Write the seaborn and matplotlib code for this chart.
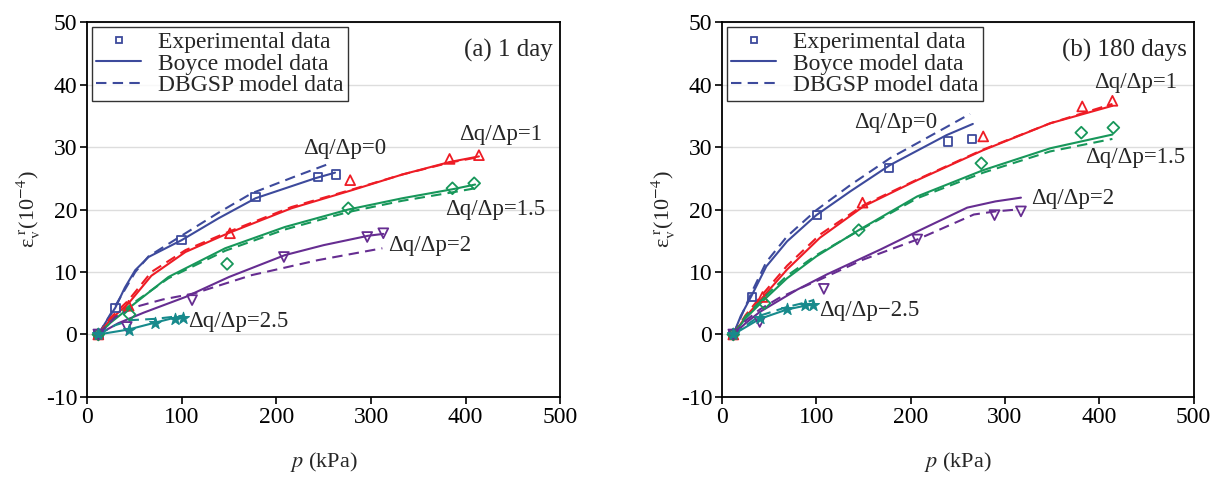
import numpy as np
import seaborn as sns
import matplotlib.pyplot as plt
from matplotlib.lines import Line2D

# ratio labels (dq/dp)
ratios = ['0', '1', '1.5', '2', '2.5']

# ---- (a) 1 day : experimental points ----
a_exp_p = {
    '0':   [12, 30, 100, 178, 244, 263],
    '1':   [12, 44, 151, 278, 383, 414],
    '1.5': [12, 45, 148, 276, 386, 409],
    '2':   [12, 42, 111, 208, 296, 313],
    '2.5': [12, 44, 72, 93, 101],
}
a_exp_e = {
    '0':   [0, 4.2, 15.1, 22.0, 25.2, 25.6],
    '1':   [0, 4.6, 16.2, 24.7, 28.1, 28.7],
    '1.5': [0, 3.2, 11.3, 20.2, 23.4, 24.2],
    '2':   [0, 1.2, 5.5, 12.4, 15.6, 16.2],
    '2.5': [0, 0.7, 1.9, 2.5, 2.7],
}
# Boyce model curves (a)
a_boy_p = {
    '0':   [12, 20, 30, 40, 51, 65, 100, 139, 178, 241, 262],
    '1':   [12, 25, 44, 68, 104, 149, 216, 280, 333, 383, 414],
    '1.5': [12, 25, 44, 86, 146, 209, 276, 333, 388, 410],
    '2':   [12, 33, 60, 104, 150, 209, 250, 297, 313],
    '2.5': [12, 44, 72, 93, 101],
}
a_boy_e = {
    '0':   [0, 2.0, 4.3, 7.5, 10.3, 12.4, 15.1, 18.6, 21.8, 25.0, 25.9],
    '1':   [0, 2.4, 5.0, 9.4, 13.2, 16.2, 20.2, 23.1, 25.6, 27.6, 28.5],
    '1.5': [0, 1.9, 4.2, 9.2, 13.8, 17.2, 20.0, 21.8, 23.3, 24.0],
    '2':   [0, 1.8, 3.5, 6.0, 9.2, 12.7, 14.3, 15.8, 16.1],
    '2.5': [0, 0.8, 1.9, 2.7, 2.9],
}
# DBGSP model curves (a)
a_dbg_p = {
    '0':   [12, 30, 51, 65, 104, 139, 174, 220, 257],
    '1':   [12, 25, 44, 68, 104, 149, 216, 280, 333, 383, 414],
    '1.5': [12, 25, 44, 86, 146, 209, 276, 333, 388, 410],
    '2':   [12, 30, 51, 80, 114, 174, 244, 312],
    '2.5': [12, 30, 47, 72, 101],
}
a_dbg_e = {
    '0':   [0, 4.6, 10.0, 12.5, 16.2, 19.5, 22.6, 25.3, 27.4],
    '1':   [0, 2.7, 5.5, 10.0, 13.5, 16.4, 20.4, 23.2, 25.6, 27.5, 28.4],
    '1.5': [0, 2.1, 4.5, 9.0, 13.4, 16.8, 19.6, 21.4, 22.8, 23.4],
    '2':   [0, 2.8, 4.4, 5.6, 6.6, 9.5, 11.9, 13.8],
    '2.5': [0, 1.5, 2.3, 2.5, 3.0],
}

# ---- (b) 180 days : experimental points ----
b_exp_p = {
    '0':   [12, 32, 101, 177, 240, 265],
    '1':   [12, 43, 149, 277, 382, 414],
    '1.5': [12, 45, 145, 275, 381, 415],
    '2':   [12, 40, 108, 207, 289, 317],
    '2.5': [12, 40, 69, 88, 97],
}
b_exp_e = {
    '0':   [0, 6.0, 19.1, 26.6, 30.9, 31.3],
    '1':   [0, 6.0, 21.1, 31.7, 36.5, 37.4],
    '1.5': [0, 5.0, 16.7, 27.4, 32.3, 33.1],
    '2':   [0, 2.0, 7.3, 15.2, 19.1, 19.7],
    '2.5': [0, 2.6, 4.1, 4.7, 4.7],
}
# Boyce model curves (b)
b_boy_p = {
    '0':   [12, 20, 31, 47, 69, 100, 136, 178, 238, 266],
    '1':   [12, 25, 44, 69, 104, 150, 207, 277, 348, 414],
    '1.5': [12, 25, 45, 69, 100, 145, 207, 277, 348, 414],
    '2':   [12, 25, 40, 60, 80, 111, 168, 210, 260, 290, 317],
    '2.5': [12, 40, 69, 88, 97],
}
b_boy_e = {
    '0':   [0, 3.0, 6.1, 10.9, 14.9, 19.1, 22.9, 27.1, 31.9, 33.7],
    '1':   [0, 2.8, 6.1, 10.4, 15.5, 20.5, 24.7, 29.5, 33.8, 36.6],
    '1.5': [0, 2.6, 5.6, 9.0, 12.5, 16.7, 22.1, 26.3, 29.8, 32.0],
    '2':   [0, 1.8, 3.6, 5.4, 7.2, 9.6, 13.6, 16.7, 20.3, 21.3, 21.9],
    '2.5': [0, 2.5, 4.0, 4.6, 4.8],
}
# DBGSP model curves (b)
b_dbg_p = {
    '0':   [12, 31, 47, 69, 100, 136, 178, 238, 263],
    '1':   [12, 25, 44, 69, 104, 150, 207, 277, 348, 414],
    '1.5': [12, 25, 45, 69, 100, 145, 207, 277, 348, 414],
    '2':   [12, 25, 40, 60, 80, 104, 150, 207, 267, 290, 313],
    '2.5': [12, 40, 69, 88, 97],
}
b_dbg_e = {
    '0':   [0, 6.6, 11.6, 15.7, 19.9, 23.9, 28.2, 33.2, 35.3],
    '1':   [0, 3.1, 6.6, 11.0, 16.0, 20.7, 24.8, 29.6, 33.8, 36.9],
    '1.5': [0, 2.9, 6.0, 9.4, 12.7, 16.6, 21.8, 25.9, 29.3, 31.3],
    '2':   [0, 2.2, 4.0, 5.8, 7.2, 8.8, 12.0, 15.2, 19.2, 19.7, 20.0],
    '2.5': [0, 3.0, 4.4, 5.1, 5.5],
}

colors = {'0': '#3d4a9c', '1': '#ee1c25', '1.5': '#17975a', '2': '#662d91', '2.5': '#178a8c'}
markers = {'0': 's', '1': '^', '1.5': 'D', '2': 'v', '2.5': '*'}
msizes = {'0': 36, '1': 50, '1.5': 36, '2': 50, '2.5': 80}

sns.set_style('ticks')
plt.rcParams['font.family'] = ['Liberation Serif', 'DejaVu Serif']
plt.rcParams['mathtext.fontset'] = 'stix'
plt.rcParams['axes.unicode_minus'] = False

fig = plt.figure(figsize=(12.2, 4.8), dpi=100)
ax_a = fig.add_axes([0.0713, 0.173, 0.388, 0.781])
ax_b = fig.add_axes([0.5918, 0.173, 0.3865, 0.781])


def draw_panel(ax, exp_p, exp_e, boy_p, boy_e, dbg_p, dbg_e, title, labels):
    for r in ratios:
        c = colors[r]
        sns.lineplot(x=boy_p[r], y=boy_e[r], color=c, lw=1.5, estimator=None, sort=False, ax=ax)
        sns.lineplot(x=dbg_p[r], y=dbg_e[r], color=c, lw=1.5, estimator=None, sort=False,
                     linestyle=(0, (5, 3)), ax=ax)
        if markers[r] == '*':
            sns.scatterplot(x=exp_p[r], y=exp_e[r], marker='*', s=msizes[r], color=c,
                            edgecolor=c, linewidth=0.8, zorder=3, ax=ax)
        else:
            sns.scatterplot(x=exp_p[r], y=exp_e[r], marker=markers[r], s=msizes[r], color=c,
                            facecolors='none', edgecolor=c, linewidth=1.3, zorder=3, ax=ax)
    for txt, (tx, ty) in labels:
        ax.text(tx, ty, txt, ha='left', va='center', fontsize=16.5)

    ax.set_xlim(0, 500)
    ax.set_ylim(-10, 50)
    ax.set_xticks(range(0, 501, 100))
    ax.set_yticks(range(-10, 51, 10))
    ax.yaxis.grid(True, color='#dddddd', lw=1)
    ax.set_axisbelow(True)
    ax.tick_params(direction='out', length=5, width=1.2, labelsize=17, colors='black', pad=2)
    for s in ax.spines.values():
        s.set_linewidth(1.3)
        s.set_color('black')
    ax.set_xlabel(r'$p$ (kPa)', fontsize=16, labelpad=16)
    ax.set_ylabel(r'ε$_{\rm v}^{\ \rm r}$(10$^{-4}$)', fontsize=16, labelpad=2)
    ax.text(0.985, 0.955, title, transform=ax.transAxes, ha='right', va='top', fontsize=18)

    handles = [
        Line2D([], [], color=colors['0'], marker='s', markerfacecolor='none', linestyle='none',
               markersize=5, markeredgewidth=1.3),
        Line2D([], [], color=colors['0'], lw=1.5),
        Line2D([], [], color=colors['0'], lw=1.5, linestyle=(0, (5, 3))),
    ]
    leg = ax.legend(handles, ['Experimental data', 'Boyce model data', 'DBGSP model data'],
                    loc='upper left', fontsize=17, frameon=True, fancybox=False,
                    edgecolor='black', borderaxespad=0.2, handlelength=1.9,
                    labelspacing=0.0, borderpad=0.2, handletextpad=0.7)
    leg.get_frame().set_linewidth(1.0)


draw_panel(ax_a, a_exp_p, a_exp_e, a_boy_p, a_boy_e, a_dbg_p, a_dbg_e, '(a) 1 day',
           [('Δq/Δp=0', (228, 29.8)), ('Δq/Δp=1', (393, 32)), ('Δq/Δp=1.5', (378, 20)),
            ('Δq/Δp=2', (318, 14.2)), ('Δq/Δp=2.5', (107, 2.0))])
draw_panel(ax_b, b_exp_p, b_exp_e, b_boy_p, b_boy_e, b_dbg_p, b_dbg_e, '(b) 180 days',
           [('Δq/Δp=0', (140, 34)), ('Δq/Δp=1', (395, 40.3)), ('Δq/Δp=1.5', (385, 28.3)),
            ('Δq/Δp=2', (328, 21.8)), ('Δq/Δp−2.5', (103, 3.9))])

fig.savefig('out.png', dpi=100)
plt.close(fig)
